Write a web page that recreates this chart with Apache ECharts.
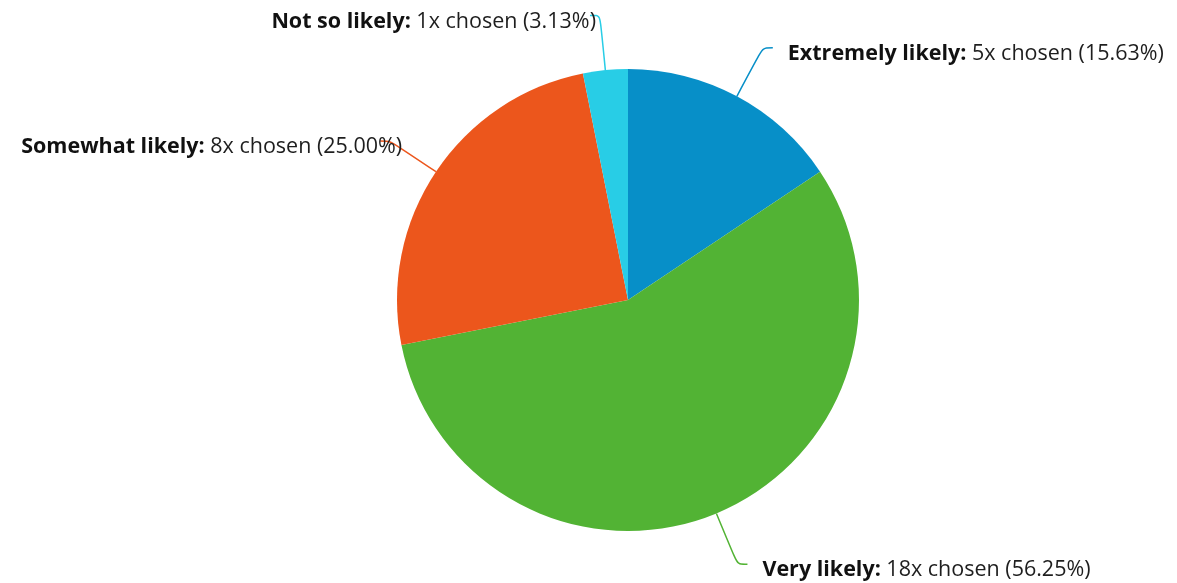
<!DOCTYPE html>
<html>
<head>
<meta charset="utf-8">
<script src="https://cdn.jsdelivr.net/npm/echarts@6/dist/echarts.min.js"></script>
<style>
  html, body { margin: 0; padding: 0; background: #fff; }
  #chart { width: 1177px; height: 583px; }
</style>
</head>
<body>
<div id="chart"></div>
<script>
// Answer options and how often each was chosen
const categories = ['Extremely likely', 'Very likely', 'Somewhat likely', 'Not so likely'];
const counts = [5, 18, 8, 1];
const colors = ['#078fc8', '#52b334', '#ec561c', '#28cde6'];

const total = counts.reduce((a, b) => a + b, 0);

const data = categories.map((name, i) => ({
  name: name,
  value: counts[i],
  itemStyle: { color: colors[i] },
  labelLine: { lineStyle: { color: colors[i] } }
}));
// labels on the left side sit closer to the end of their connector
data[2].label = { distanceToLabelLine: -22 };
data[3].label = { distanceToLabelLine: -6 };

const chart = echarts.init(document.getElementById('chart'), null, { renderer: 'canvas' });
chart.setOption({
  animation: false,
  series: [{
    type: 'pie',
    center: [628, 300],
    radius: 231,
    startAngle: 90,
    clockwise: true,
    data: data,
    label: {
      show: true,
      position: 'outside',
      distanceToLabelLine: 15,
      padding: [12, 0, 0, 0],
      fontFamily: 'Open Sans',
      fontSize: 21.5,
      color: '#1e1e1e',
      formatter: p => '{b|' + p.name + ':} ' + p.value + 'x chosen (' + (p.value / total * 100).toFixed(2) + '%)',
      rich: {
        b: { fontFamily: 'Open Sans', fontSize: 21.5, fontWeight: 'bold', color: '#111' }
      }
    },
    labelLine: {
      show: true,
      length: 55,
      length2: 10,
      smooth: true,
      lineStyle: { width: 1.5 }
    },
    emphasis: { disabled: true }
  }]
});
</script>
</body>
</html>
